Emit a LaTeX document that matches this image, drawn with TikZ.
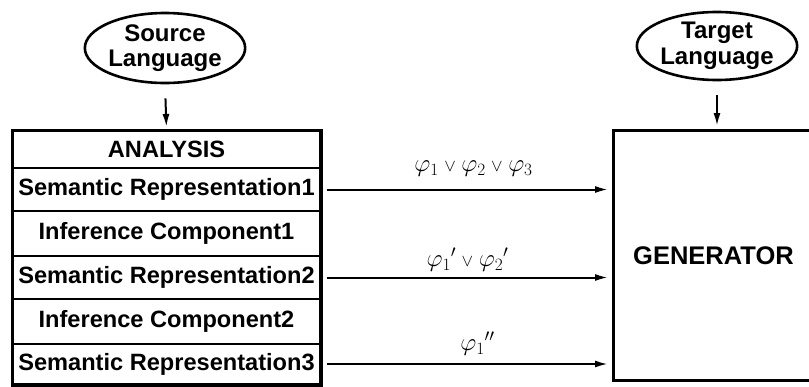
\documentclass[tikz,border=0pt]{standalone}
\usepackage{fontspec}
\setmainfont{Liberation Sans}
\usetikzlibrary{arrows.meta,shapes.geometric}
\begin{document}
\begin{tikzpicture}[x=1pt,y=-1pt,
  cell/.style={draw,line width=2pt,minimum width=307pt,inner sep=0pt,
    font=\fontsize{23.6}{26}\selectfont\bfseries,anchor=north west},
  lang/.style={ellipse,draw,line width=2.6pt,inner sep=0pt,align=center,
    font=\fontsize{24}{25.5}\selectfont\bfseries},
  flow/.style={-{Latex[length=13pt,width=7pt]},line width=2pt},
  lab/.style={font=\fontsize{27}{29}\selectfont}]
\clip (0,0) rectangle (809,386);
\useasboundingbox (0,0) rectangle (809,386);
% analysis stack
\node[cell,minimum height=37pt] (ana) at (12,130) {ANALYSIS};
\node[cell,minimum height=43pt] (sr1) at (12,167) {Semantic Representation1};
\node[cell,minimum height=45pt] (ic1) at (12,210) {Inference Component1};
\node[cell,minimum height=43pt] (sr2) at (12,255) {Semantic Representation2};
\node[cell,minimum height=45pt] (ic2) at (12,298) {Inference Component2};
\node[cell,minimum height=40pt] (sr3) at (12,343) {Semantic Representation3};
\draw[line width=3pt] (ana.north west) rectangle (sr3.south east);
% generator
\node[draw,line width=3pt,minimum width=200pt,minimum height=250pt,inner sep=0pt,
  anchor=north west,font=\fontsize{25.5}{27}\selectfont\bfseries] (gen) at (612,129) {GENERATOR};
% languages
\node[lang,minimum width=156pt,minimum height=70pt] (src) at (165,48) {Source\\Language};
\node[lang,minimum width=150pt,minimum height=68pt] (tgt) at (717,46) {Target\\Language};
\draw[flow,shorten <=14pt,shorten >=3pt] (src.south) -- (ana.north);
\draw[flow,shorten <=14pt,shorten >=3pt] (tgt.south) -- (tgt.south |- gen.north);
% connectors
\draw[flow,shorten <=6pt,shorten >=4pt] (sr1.east) -- (sr1.east -| gen.west)
  node[lab,midway,yshift=21pt,xshift=7pt] {$\varphi_1\mathbin{\scriptstyle\vee}\varphi_2\mathbin{\scriptstyle\vee}\varphi_3$};
\draw[flow,shorten <=6pt,shorten >=4pt] (sr2.east) -- (sr2.east -| gen.west)
  node[lab,midway,yshift=18pt,xshift=1pt] {$\varphi_1{}'\mathbin{\scriptstyle\vee}\varphi_2{}'$};
\draw[flow,shorten <=6pt,shorten >=4pt] (sr3.east) -- (sr3.east -| gen.west)
  node[lab,midway,yshift=20pt,xshift=11pt] {$\varphi_1{}''$};
\end{tikzpicture}
\end{document}
